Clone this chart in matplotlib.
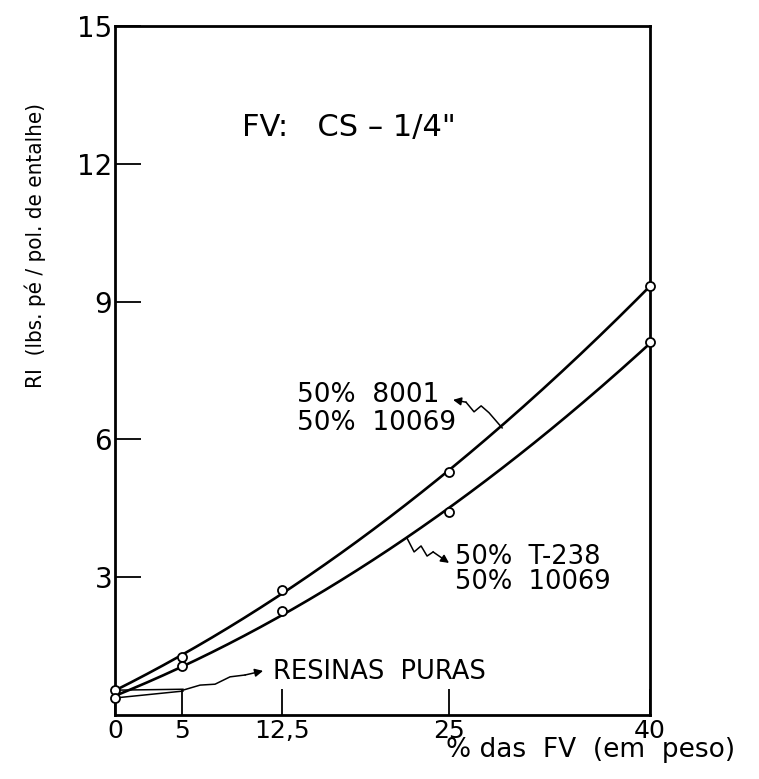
import numpy as np
import matplotlib
matplotlib.use('Agg')
import matplotlib.pyplot as plt

# ensaio de impacto - RI em funcao do teor de fibra de vidro
fv = [0, 5, 12.5, 25, 40]
ri_8001 = [0.54, 1.26, 2.72, 5.29, 9.35]     # 50% 8001 / 50% 10069
ri_t238 = [0.37, 1.07, 2.27, 4.42, 8.12]     # 50% T-238 / 50% 10069

xticks = [0, 5, 12.5, 25, 40]
xticklabels = ['0', '5', '12,5', '25', '40']
yticks = [3, 6, 9, 12, 15]
yticklabels = ['3', '6', '9', '12', '15']

fig = plt.figure(figsize=(7.59, 7.79), dpi=100)
ax = fig.add_axes([0.1515, 0.0822, 0.705, 0.8844])

# curvas suavizadas (ajuste de 2o grau pelos pontos medidos)
xs = np.linspace(0, 40, 200)
for ri in (ri_8001, ri_t238):
    c = np.polyfit(fv, ri, 2)
    ax.plot(xs, np.polyval(c, xs), color='k', lw=1.9, zorder=2)
    ax.plot(fv, ri, 'o', ms=6.5, mfc='white', mec='k', mew=1.3, zorder=3,
            clip_on=False)

ax.set_xlim(0, 40)
ax.set_ylim(0, 15)
for s in ax.spines.values():
    s.set_linewidth(2)

ax.set_xticks(xticks)
ax.set_xticklabels(xticklabels, fontsize=18)
ax.set_yticks(yticks)
ax.set_yticklabels(yticklabels, fontsize=20)
ax.tick_params(direction='in', length=19, width=1.3, pad=3)
ax.tick_params(axis='y', pad=2)

fig.text(0.046, 0.685, 'RI  (lbs. pé / pol. de entalhe)', rotation=90,
         ha='center', va='center', fontsize=16, fontstretch='condensed')
ax.text(24.75, -0.76, '% das  FV  (em  peso)', fontsize=19, ha='left',
        va='center', clip_on=False)

ax.text(9.5, 12.78, 'FV:   CS – 1/4"', fontsize=22, va='center')

ax.text(13.6, 6.97, '50%  8001', fontsize=19, va='center')
ax.text(13.6, 6.36, '50%  10069', fontsize=19, va='center')
ax.text(25.4, 3.45, '50%  T-238', fontsize=18.5, va='center')
ax.text(25.4, 2.90, '50%  10069', fontsize=18.5, va='center')
ax.text(11.8, 0.94, 'RESINAS  PURAS', fontsize=18.5, va='center')

# setas em zigue-zague ligando os rotulos as curvas
zz1 = [(28.94, 6.25), (27.96, 6.58), (27.37, 6.73), (26.84, 6.60), (26.24, 6.81)]
zz2 = [(21.83, 3.85), (22.36, 3.55), (22.88, 3.68), (23.33, 3.46), (23.78, 3.55)]
zz3 = [(5.08, 0.54), (6.36, 0.65), (7.48, 0.67), (8.6, 0.83), (9.72, 0.87)]
for pts, tip in ((zz1, (25.27, 6.86)), (zz2, (24.97, 3.31)), (zz3, (11.07, 0.96))):
    px, py = zip(*pts)
    ax.plot(px, py, color='k', lw=1.1)
    ax.annotate('', xy=tip, xytext=pts[-1],
                arrowprops=dict(arrowstyle='-|>', color='k', lw=1.1,
                                mutation_scale=12, shrinkA=0, shrinkB=0))
ax.plot([5.08, 0], [0.56, ri_8001[0]], color='k', lw=1.1)
ax.plot([5.08, 0], [0.52, ri_t238[0]], color='k', lw=1.1)

fig.savefig('out.png', dpi=100)
